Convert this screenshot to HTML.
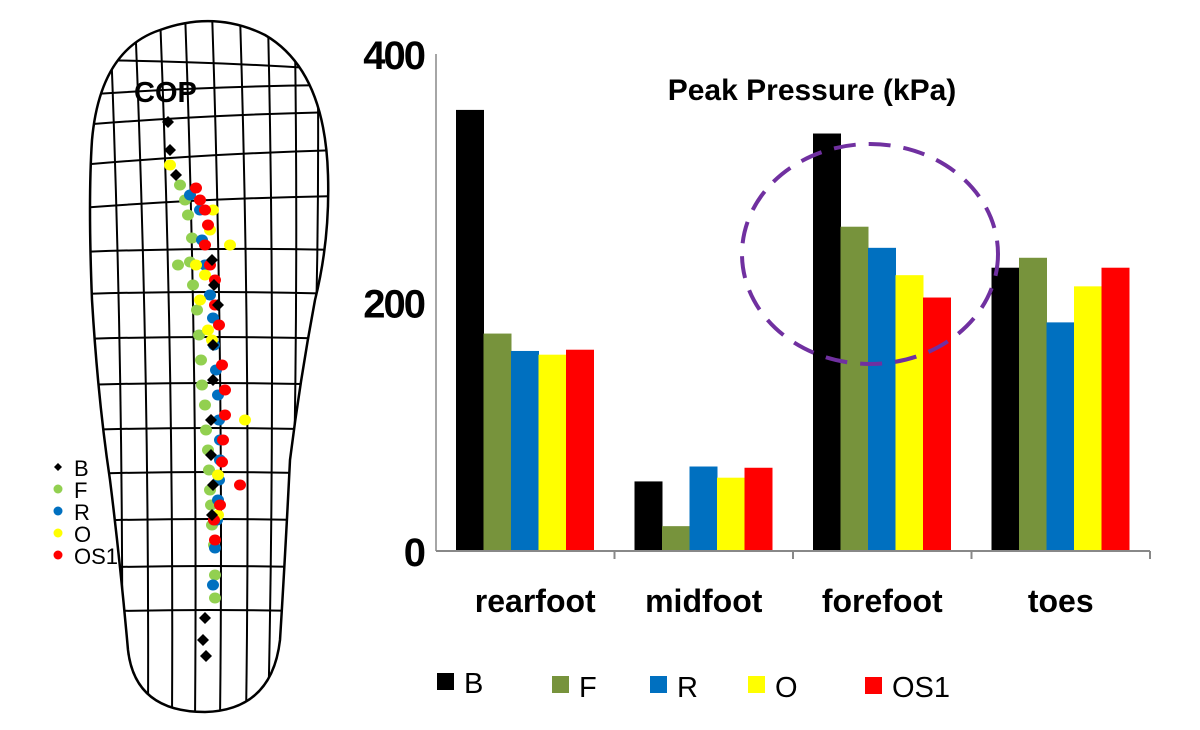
<!DOCTYPE html>
<html><head><meta charset="utf-8"><style>
body{margin:0;background:#fff;width:1200px;height:730px;overflow:hidden;font-family:"Liberation Sans",sans-serif}
svg{position:absolute;left:0;top:0}
</style></head><body>
<svg id="s" width="1200" height="730" xmlns="http://www.w3.org/2000/svg">
<defs><clipPath id="fc"><path d="M160,30 Q215,10 265,35 Q325,70 328,175 Q330,240 315,300 Q300,380 290,460 Q285,560 280,640 Q272,710 205,712 Q135,712 128,650 Q120,560 110,480 Q98,400 92,300 Q88,200 92,140 Q100,50 160,30 Z"/></clipPath></defs>
<g id="foot">
 <path d="M160,30 Q215,10 265,35 Q325,70 328,175 Q330,240 315,300 Q300,380 290,460 Q285,560 280,640 Q272,710 205,712 Q135,712 128,650 Q120,560 110,480 Q98,400 92,300 Q88,200 92,140 Q100,50 160,30 Z" fill="#fff" stroke="#000" stroke-width="2.5"/>
 <g id="grid" stroke="#000" stroke-width="2" fill="none" clip-path="url(#fc)"></g>
 <text x="134" y="102" font-weight="bold" font-size="29">COP</text>
 <g id="dots"></g>
 <g id="footlegend" font-size="22"></g>
</g>
<g id="chart"></g>
</svg>
<script>
const categories=["rearfoot","midfoot","forefoot","toes"];
const seriesNames=["B","F","R","O","OS1"];
const seriesColors=["#000000","#77933c","#0070c0","#ffff00","#ff0000"];
const valsB=[355,56,336,228];
const valsF=[175,20,261,236];
const valsR=[161,68,244,184];
const valsO=[158,59,222,213];
const valsOS1=[162,67,204,228];
const tickVals=[0,200,400];
const NS="http://www.w3.org/2000/svg";
function mk(t,a,p){const e=document.createElementNS(NS,t);for(const k in a)e.setAttribute(k,a[k]);(p||document.getElementById('s')).appendChild(e);return e;}
const grid=document.getElementById('grid');
const rows=[[60,70],[95,85],[125,112],[165,150],[208,196],[252,250],[294,294],[339,339],[385,385],[430,430],[474,474],[521,521],[568,568],[612,612]];
rows.forEach(r=>{const ln=mk('path',{d:`M80,${r[0]} Q210,${(r[0]+r[1])/2-4} 340,${r[1]}`},grid);
});
const cols=[[110,20,122,720],[135,18,148,720],[160,15,172,720],[185,12,195,720],[212,12,220,720],[240,15,246,720],[268,22,268,720],[295,40,288,700],[318,90,305,600]];
cols.forEach(c=>{const ln=mk('path',{d:`M${c[0]},${c[1]} Q${(c[0]+c[2])/2+8},${(c[1]+c[3])/2} ${c[2]},${c[3]}`},grid);
});
const dots=document.getElementById('dots');
const greenPts=[[180,185],[185,200],[188,215],[192,238],[178,265],[190,262],[193,285],[197,310],[199,335],[201,360],[202,385],[205,405],[206,430],[208,450],[209,470],[210,490],[211,505],[212,525],[214,545],[215,575],[215,598]];
const bluePts=[[190,195],[200,210],[202,240],[205,265],[210,295],[213,318],[214,345],[216,370],[218,395],[219,420],[220,440],[220,460],[219,480],[218,500],[217,520],[215,548],[213,585]];
const yellowPts=[[170,165],[213,210],[210,230],[230,245],[196,265],[205,275],[200,300],[208,330],[212,340],[245,420],[218,475],[218,515]];
const redPts=[[196,188],[200,200],[205,210],[208,225],[205,245],[210,265],[215,280],[215,305],[219,325],[222,365],[225,390],[225,415],[223,440],[222,462],[240,485],[220,505],[214,520],[215,540]];
const diaPts=[[168,122],[170,150],[176,175],[212,260],[214,285],[218,305],[213,345],[213,380],[211,420],[211,455],[213,485],[212,515],[205,618],[203,640],[206,656]];
[[greenPts,"#92d050"],[bluePts,"#0070c0"],[yellowPts,"#ffff00"],[redPts,"#ff0000"]].forEach(([pts,c])=>pts.forEach(p=>{
 const e=mk('ellipse',{cx:p[0],cy:p[1],rx:6,ry:5.5,fill:c},dots);
 
 }));
diaPts.forEach(p=>{const e=mk('path',{d:`M${p[0]},${p[1]-6} L${p[0]+6},${p[1]} L${p[0]},${p[1]+6} L${p[0]-6},${p[1]} Z`,fill:"#000"},dots);
 
 });
const fl=document.getElementById('footlegend');
["B","F","R","O","OS1"].forEach((n,i)=>{const y=468+i*22;
 const c=["#000","#92d050","#0070c0","#ffff00","#ff0000"][i];
 const m=i==0?mk('path',{d:`M58,${y-5} L62,${y-1} L58,${y+3} L54,${y-1}Z`,fill:c},fl):mk('circle',{cx:58,cy:y-1,r:4.5,fill:c},fl);
 
 const t=mk('text',{x:74,y:y+8},fl);t.textContent=n;
 });
const ch=document.getElementById('chart');
const X0=436,X1=1150,Y0=551,YTOP=54,YMAX=400;
const catW=(X1-X0)/categories.length, barW=27.5, gpad=20;
const y=v=>Y0-(v/YMAX)*(Y0-YTOP);
const x=(ci,si)=>X0+ci*catW+gpad+si*barW;
const all=[valsB,valsF,valsR,valsO,valsOS1];
let a=mk('line',{x1:X0,y1:YTOP,x2:X0,y2:Y0,stroke:"#888","stroke-width":1.5},ch);

tickVals.forEach(v=>{const t=mk('text',{x:X0-12,y:y(v)+15,"text-anchor":"end","font-size":40,"font-weight":"bold","letter-spacing":"-2"},ch);t.textContent=v;
 });
all.forEach((vals,si)=>vals.forEach((v,ci)=>{const r=mk('rect',{x:x(ci,si),y:y(v),width:barW+0.5,height:Y0-y(v),fill:seriesColors[si]},ch);
 
 }));
a=mk('line',{x1:X0,y1:Y0,x2:X1,y2:Y0,stroke:"#888","stroke-width":2},ch);

categories.forEach((c,i)=>{const tk=mk('line',{x1:X0+(i+1)*catW,y1:Y0,x2:X0+(i+1)*catW,y2:Y0+8,stroke:"#888","stroke-width":2},ch);
 
 const t=mk('text',{x:X0+(i+0.5)*catW+(i==0?10:0),y:612,"text-anchor":"middle","font-size":32,"font-weight":"bold"},ch);t.textContent=c;
 });
let t=mk('text',{x:812,y:100,"text-anchor":"middle","font-size":30,"font-weight":"bold"},ch);t.textContent="Peak Pressure (kPa)";

let el=mk('ellipse',{cx:870,cy:254,rx:128,ry:110,fill:"none",stroke:"#7030a0","stroke-width":4,"stroke-dasharray":"22,13"},ch);

const lgX=[437,552,650,748,865];
seriesNames.forEach((n,i)=>{const r=mk('rect',{x:lgX[i],y:i==0?673:i==4?677:676,width:17,height:17,fill:seriesColors[i]},ch);
 
 const tt=mk('text',{x:lgX[i]+27,y:i==0?693:697,"font-size":29},ch);tt.textContent=n;
 });
</script>
</body></html>
